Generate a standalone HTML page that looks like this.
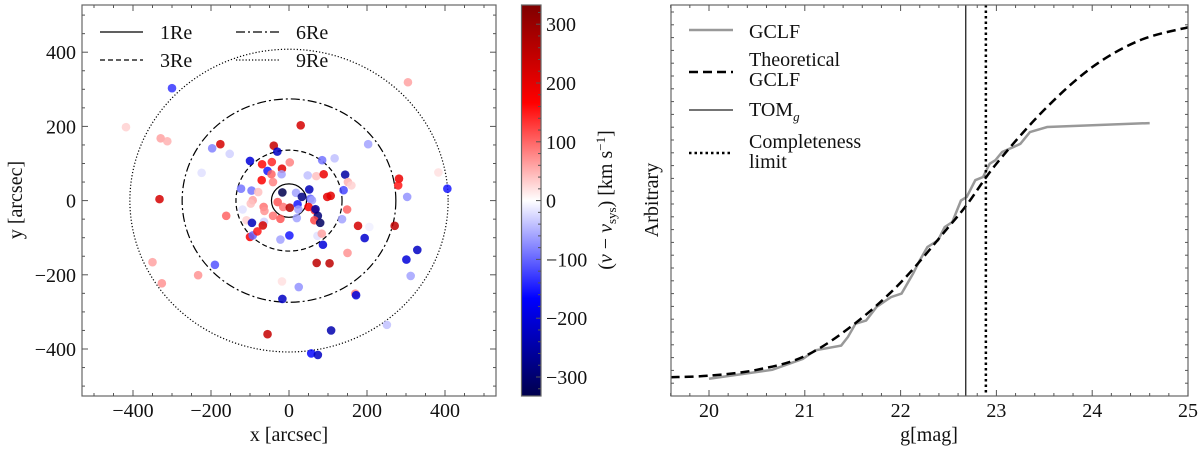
<!DOCTYPE html>
<html><head><meta charset="utf-8"><style>
body{margin:0;background:#fff;}
svg text{font-family:"Liberation Serif",serif;fill:#111;}
</style></head><body>
<svg id="fig" width="1200" height="450" viewBox="0 0 1200 450" xmlns="http://www.w3.org/2000/svg">
<defs>
<linearGradient id="cmap" x1="0" y1="1" x2="0" y2="0">
<stop offset="0" stop-color="#00004d"/><stop offset="0.25" stop-color="#0000ff"/><stop offset="0.5" stop-color="#ffffff"/><stop offset="0.75" stop-color="#ff0000"/><stop offset="1" stop-color="#800000"/>
</linearGradient>
<clipPath id="clipL"><rect x="82" y="5" width="414" height="391"/></clipPath>
<clipPath id="clipR"><rect x="671" y="5" width="517" height="391"/></clipPath>
</defs>
<g id="left"></g>
<g id="cbar"></g>
<g id="right"></g>
</svg>
<script>
// ---- left panel data ----
const ptX = [-300,305,-418,-329,-312,-176,-197,-152,-224,30,-39,-30,-100,-69,-44,-18,2,-55,-45,-70,-41,-19,85,117,48,70,89,144,203,282,280,151,160,140,303,383,406,-332,-123,-96,-61,-79,-17,18,33,52,55,59,-93,-98,-65,-63,-29,-15,2,22,24,50,66,68,98,107,149,136,-161,-119,-109,-95,-64,-67,-41,-22,20,74,65,80,-151,-100,-93,-81,-22,1,73,84,87,177,206,194,271,150,71,104,329,301,312,-190,-350,-326,-233,-18,25,170,172,-17,251,108,-55,57,74];
const ptY = [303,319,198,168,160,152,141,126,75,203,148,132,107,98,104,86,103,80,71,55,50,71,109,114,68,66,71,70,152,59,41,50,41,28,10,76,32,4,32,27,21,23,22,21,10,30,5,1,1,-8,-17,-28,-4,-17,-19,-10,-24,-17,-26,-23,10,13,-24,-50,-41,-24,-53,-60,-57,-67,-41,-49,-47,-41,-53,-60,-78,-98,-94,-83,-105,-94,-95,-89,-119,-68,-71,-101,-68,-141,-168,-169,-133,-159,-203,-173,-166,-223,-201,-218,-233,-251,-255,-265,-335,-350,-360,-412,-416];
const ptV = [-130,60,30,60,50,220,-80,-30,-20,220,240,-220,-200,160,140,200,80,-150,100,170,80,-60,-90,-40,-40,40,190,-250,-60,190,150,50,30,-120,-70,20,-150,220,-90,-90,0,40,-330,-60,-280,-230,-100,-60,60,40,90,70,110,90,260,-150,-60,170,140,-250,200,200,100,-60,100,-20,30,-230,-30,220,90,110,-60,-290,120,-310,0,170,-100,150,-60,-150,-20,60,-200,220,-10,-210,250,70,250,250,-220,-200,-60,-110,60,70,70,20,-70,80,-200,-220,-40,-240,240,-160,-220];
const ringR = [45,136,274,408];
const ringLabels = ["1Re","3Re","6Re","9Re"];
const ringDash = ["", "5,3", "9,3,2,3", "1.2,2"];
const xTicks = [-400,-200,0,200,400];
const yTicks = [-400,-200,0,200,400];
const cbTicks = [300,200,100,0,-100,-200,-300];
// ---- right panel data ----
const theoG = [19.6,20,20.5,21,21.5,22,22.5,22.7,23,23.5,24,24.5,25];
const theoF = [0.048,0.052,0.067,0.102,0.181,0.29,0.432,0.492,0.594,0.732,0.841,0.91,0.943];
const obsG = [20.0,20.66,20.98,21.11,21.38,21.45,21.53,21.64,21.75,21.90,22.01,22.13,22.20,22.28,22.39,22.46,22.54,22.63,22.69,22.78,22.86,22.93,22.99,23.06,23.18,23.25,23.35,23.53,24.60];
const obsF = [0.044,0.067,0.095,0.117,0.129,0.151,0.185,0.193,0.228,0.253,0.262,0.313,0.347,0.381,0.398,0.432,0.445,0.500,0.509,0.552,0.560,0.594,0.603,0.624,0.637,0.645,0.675,0.688,0.698];
const tomG = 22.68, compG = 22.89;
const gTicks = [20,21,22,23,24,25];

const NS="http://www.w3.org/2000/svg";
function mk(p,tag,a){const e=document.createElementNS(NS,tag);for(const k in a)e.setAttribute(k,a[k]);p.appendChild(e);return e;}
const L=document.getElementById('left'),C=document.getElementById('cbar'),R=document.getElementById('right');
const FS=20;
// left axes
const lx0=82,lx1=496,ly0=5,ly1=396,lcx=289,lcy=200.6;
const KX=0.39,KY=0.371;
const sx=v=>lcx+v*KX, sy=v=>lcy-v*KY;
const vmax=330;
function seismic(v){let t=Math.max(-1,Math.min(1,v/vmax));let r,g,b;
 if(t<-0.5){r=0;g=0;b=0.3+0.7*(t+1)/0.5;}else if(t<0){const s=(t+0.5)/0.5;r=s;g=s;b=1;}
 else if(t<0.5){const s=t/0.5;r=1;g=1-s;b=1-s;}else{const s=(t-0.5)/0.5;r=1-0.5*s;g=0;b=0;}
 return `rgb(${Math.round(r*255)},${Math.round(g*255)},${Math.round(b*255)})`;}
const gp=mk(L,'g',{'clip-path':'url(#clipL)'});
for(let i=0;i<ringR.length;i++){
 const c=mk(gp,'ellipse',{cx:sx(0),cy:sy(0),rx:ringR[i]*KX,ry:ringR[i]*KY,fill:'none',stroke:'#000','stroke-width':1.2,'stroke-dasharray':ringDash[i]});
 
 
}
for(let i=0;i<ptX.length;i++){
 const c=mk(gp,'circle',{cx:sx(ptX[i]),cy:sy(ptY[i]),r:4.3,fill:seismic(ptV[i]),'fill-opacity':0.85});
 
 
}
mk(L,'rect',{x:lx0,y:ly0,width:lx1-lx0,height:ly1-ly0,fill:'none',stroke:'#666','stroke-width':1.2});
for(let v=-500;v<=500;v+=50){const maj=v%200===0;const len=maj?6:3;
 mk(L,'line',{x1:sx(v),x2:sx(v),y1:ly1,y2:ly1-len,stroke:'#555'});mk(L,'line',{x1:sx(v),x2:sx(v),y1:ly0,y2:ly0+len,stroke:'#555'});
 mk(L,'line',{y1:sy(v),y2:sy(v),x1:lx0,x2:lx0+len,stroke:'#555'});mk(L,'line',{y1:sy(v),y2:sy(v),x1:lx1,x2:lx1-len,stroke:'#555'});}
xTicks.forEach(v=>{const t=mk(L,'text',{x:sx(v),y:417,'font-size':FS,'text-anchor':'middle'});t.textContent=(v<0?'\u2212':'')+Math.abs(v);
 });
yTicks.forEach(v=>{const t=mk(L,'text',{x:76,y:sy(v)+7,'font-size':FS,'text-anchor':'end'});t.textContent=(v<0?'\u2212':'')+Math.abs(v);
 });
let t=mk(L,'text',{x:289,y:441,'font-size':FS,'text-anchor':'middle'});t.textContent='x [arcsec]';

t=mk(L,'text',{x:0,y:0,'font-size':FS,'text-anchor':'middle',transform:'translate(22,200) rotate(-90)'});t.textContent='y [arcsec]';

// legend
const legPos=[[100,32],[100,60],[236,32],[236,60]];
for(let i=0;i<4;i++){const [lx,ly]=legPos[i];
 const g=mk(L,'g',{});
 mk(g,'line',{x1:lx,x2:lx+43,y1:ly,y2:ly,stroke:'#000','stroke-width':1.2,'stroke-dasharray':ringDash[i]});
 const tt=mk(g,'text',{x:lx+60,y:ly+7,'font-size':FS});tt.textContent=ringLabels[i];}

// colorbar
const cx0=521.5,cx1=541,cs=v=>200.6-v*0.588;
mk(C,'rect',{x:cx0,y:ly0,width:cx1-cx0,height:ly1-ly0,fill:'url(#cmap)',stroke:'#666','stroke-width':1.2});
for(let v=-320;v<=320;v+=20){const maj=v%100===0;mk(C,'line',{x1:cx1,x2:cx1-(maj?5:3),y1:cs(v),y2:cs(v),stroke:'#555'});}
cbTicks.forEach(v=>{const tt=mk(C,'text',{x:546,y:cs(v)+7,'font-size':FS});tt.textContent=(v<0?'\u2212':'')+Math.abs(v);
 });
t=mk(C,'text',{x:0,y:0,'font-size':FS,'text-anchor':'middle',transform:'translate(612,200) rotate(-90)'});
t.innerHTML='(<tspan font-style="italic">v</tspan> \u2212 <tspan font-style="italic">v</tspan><tspan font-size="13" dy="4">sys</tspan><tspan dy="-4">) [km s</tspan><tspan font-size="13" dy="-7">\u22121</tspan><tspan dy="7">]</tspan>';


// right axes
const rx0=671,rx1=1188;
const gx=g=>709+(g-20)*95.8, fy=f=>396-f*391;
const rp=mk(R,'g',{'clip-path':'url(#clipR)'});
let d=obsG.map((g,i)=>(i?'L':'M')+gx(g)+','+fy(obsF[i])).join('');
let p=mk(rp,'path',{d,fill:'none',stroke:'#999','stroke-width':2.5});
let pts=theoG.map((g,i)=>[gx(g),fy(theoF[i])]);
d='M'+pts[0];for(let i=0;i<pts.length-1;i++){const p0=pts[Math.max(0,i-1)],p1=pts[i],p2=pts[i+1],p3=pts[Math.min(pts.length-1,i+2)];
 d+=`C${p1[0]+(p2[0]-p0[0])/6},${p1[1]+(p2[1]-p0[1])/6} ${p2[0]-(p3[0]-p1[0])/6},${p2[1]-(p3[1]-p1[1])/6} ${p2[0]},${p2[1]}`;}
p=mk(rp,'path',{d,fill:'none',stroke:'#000','stroke-width':2.5,'stroke-dasharray':'9,5'});
p=mk(rp,'line',{x1:gx(tomG),x2:gx(tomG),y1:ly0,y2:ly1,stroke:'#222','stroke-width':1.3});
p=mk(rp,'line',{x1:gx(compG),x2:gx(compG),y1:ly0,y2:ly1,stroke:'#000','stroke-width':2.5,'stroke-dasharray':'2.5,3'});
mk(R,'rect',{x:rx0,y:ly0,width:rx1-rx0,height:ly1-ly0,fill:'none',stroke:'#666','stroke-width':1.2});
for(let g=19.6;g<=25.001;g+=0.2){const maj=Math.abs(g-Math.round(g))<0.01;const len=maj?6:3;
 mk(R,'line',{x1:gx(g),x2:gx(g),y1:ly1,y2:ly1-len,stroke:'#555'});mk(R,'line',{x1:gx(g),x2:gx(g),y1:ly0,y2:ly0+len,stroke:'#555'});}
for(let y=ly1-12.8;y>ly0;y-=12.8){mk(R,'line',{x1:rx0,x2:rx0+3,y1:y,y2:y,stroke:'#555'});mk(R,'line',{x1:rx1,x2:rx1-3,y1:y,y2:y,stroke:'#555'});}
gTicks.forEach(g=>{const tt=mk(R,'text',{x:gx(g),y:417,'font-size':FS,'text-anchor':'middle'});tt.textContent=g;
 });
t=mk(R,'text',{x:929,y:441,'font-size':FS,'text-anchor':'middle'});t.textContent='g[mag]';
t=mk(R,'text',{x:0,y:0,'font-size':FS,'text-anchor':'middle',transform:'translate(658,200) rotate(-90)'});t.textContent='Arbitrary';
// right legend
function leg(name,y,style,lines,ty){const g=mk(R,'g',{});
 mk(g,'line',Object.assign({x1:689,x2:733,y1:y,y2:y},style));
 lines.forEach((s,i)=>{const tt=mk(g,'text',{x:749,y:ty+i*20,'font-size':FS});tt.innerHTML=s;});}
leg('legend-gclf',30,{stroke:'#999','stroke-width':2.5},['GCLF'],38);
leg('legend-theoretical',72,{stroke:'#000','stroke-width':2.5,'stroke-dasharray':'9,5'},['Theoretical','GCLF'],66);
leg('legend-tom',110,{stroke:'#222','stroke-width':1.3},['TOM<tspan font-size="13" font-style="italic" dy="5">g</tspan>'],116);
leg('legend-completeness',153,{stroke:'#000','stroke-width':2.5,'stroke-dasharray':'2.5,3'},['Completeness','limit'],148);
</script>
</body></html>
